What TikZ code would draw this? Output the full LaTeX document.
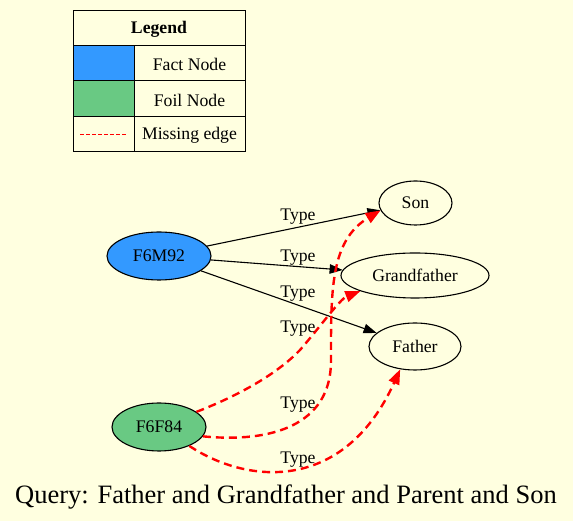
\documentclass[tikz,border=0pt]{standalone}
\usepackage{fontspec}
\setmainfont{Liberation Serif}
\usetikzlibrary{arrows.meta,shapes.geometric}
\definecolor{bg}{RGB}{255,255,224}
\definecolor{factblue}{RGB}{51,153,255}
\definecolor{foilgreen}{RGB}{105,201,131}
\begin{document}
\begin{tikzpicture}[x=1pt,y=1pt,
  every node/.style={font=\fontsize{17.7}{20}\selectfont, inner sep=0pt},
  ent/.style={ellipse, draw=black, line width=1.1pt},
  lbl/.style={fill=none},
  factedge/.style={draw=black, line width=1.1pt, -{Triangle[length=13pt,width=9.5pt]}},
  missedge/.style={draw=red, line width=2.4pt, dash pattern=on 8pt off 5pt, -{Triangle[length=15pt,width=11pt]}},
  grid/.style={draw=black, line width=1pt}
]
\path[use as bounding box, fill=bg] (0,0) rectangle (573,521);

% legend
\fill[factblue] (73,440) rectangle (134,475);
\fill[foilgreen] (73,404) rectangle (134,440);
\draw[grid] (73,369) rectangle (245,510);
\draw[grid] (73,475) -- (245,475);
\draw[grid] (73,440) -- (245,440);
\draw[grid] (73,404) -- (245,404);
\draw[grid] (134,369) -- (134,475);
\node (legtitle) at (159,492) {\bfseries Legend};
\node (legfact) at (189.5,456.5) {Fact Node};
\node (legfoil) at (189.5,421) {Foil Node};
\node (legmiss) at (189.5,385.5) {Missing edge};
\coordinate (lms) at (80,386.5);
\coordinate (lme) at (126,386.5);
\draw[red, line width=0.8pt, dash pattern=on 4pt off 2pt] (lms) -- (lme);

% nodes
\node[ent, fill=factblue, minimum width=104pt, minimum height=48pt] (m92) at (159,265) {F6M92};
\node[ent, fill=foilgreen, minimum width=94pt, minimum height=48pt] (f84) at (159,94) {F6F84};
\node[ent, minimum width=73pt, minimum height=44pt] (son) at (415.5,318) {Son};
\node[ent, minimum width=148pt, minimum height=45pt] (gf) at (415,245.5) {Grandfather};
\node[ent, minimum width=92pt, minimum height=47pt] (fa) at (415,174.5) {Father};

% fact edges
\draw[factedge] (m92) -- (son);
\draw[factedge] (m92) -- (gf);
\draw[factedge] (m92) -- (fa);
\node[lbl] (t1) at (298,304) {Type};
\node[lbl] (t2) at (298,263) {Type};
\node[lbl] (t3) at (298,227) {Type};

% missing edges
\draw[missedge] (f84.22) .. controls (245,128) and (280,150) .. (300,171)
   .. controls (320,194) and (340,222) .. (gf.196);
\draw[missedge] (f84.348) .. controls (270,78) and (331,95) .. (331,160)
   .. controls (331,230) and (330,280) .. (son.192);
\draw[missedge] (f84.328) .. controls (250,35) and (345,30) .. (fa.237);
\node[lbl] (t4) at (298,192) {Type};
\node[lbl] (t5) at (298,116) {Type};
\node[lbl] (t6) at (298,61) {Type};

% title
\node (title) at (286,24) {\fontsize{26.5}{30}\selectfont Query: Father and Grandfather and Parent and Son};
\end{tikzpicture}
\end{document}
